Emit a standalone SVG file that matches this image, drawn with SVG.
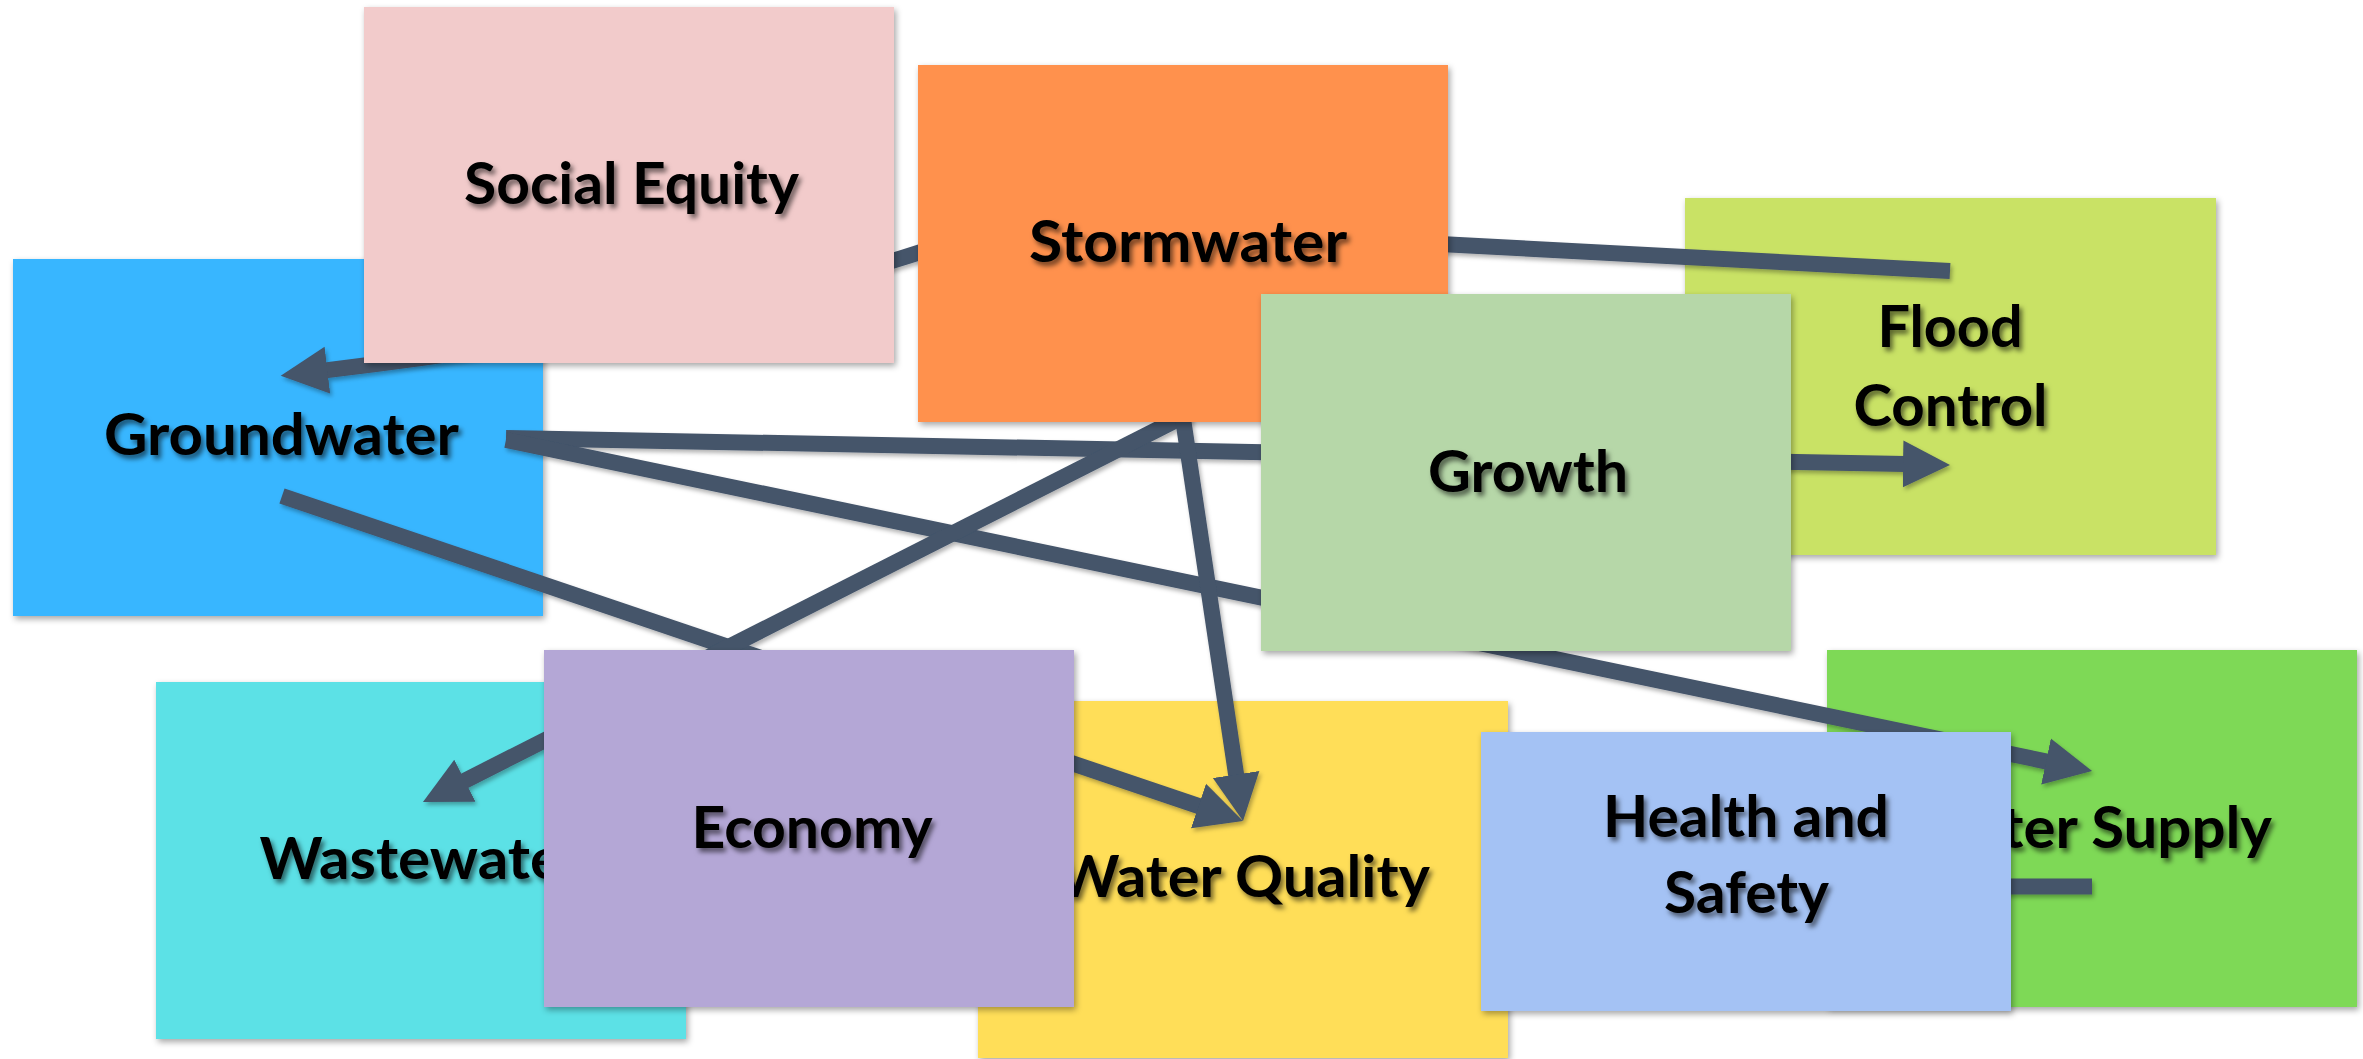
<svg xmlns="http://www.w3.org/2000/svg" width="2363" height="1059" viewBox="0 0 2363 1059">
<defs>
<style>
.box{stroke:none}
.lbl{font-family:Lato,"Open Sans","Liberation Sans",sans-serif;font-weight:700;font-size:58px;fill:#000;text-anchor:middle;filter:url(#tshadow)}
.con{fill:none;stroke:#44546A;stroke-width:16;stroke-linecap:butt}
.arr{marker-end:url(#arrow)}
</style>
<filter id="bshadow" x="-5%" y="-5%" width="115%" height="115%">
<feDropShadow dx="2" dy="3" stdDeviation="3" flood-color="#000" flood-opacity="0.35"/>
</filter>
<filter id="tshadow" x="-10%" y="-30%" width="125%" height="170%">
<feDropShadow dx="3" dy="4" stdDeviation="2.5" flood-color="#000" flood-opacity="0.55"/>
</filter>
<filter id="cshadow" x="-5%" y="-5%" width="115%" height="115%">
<feDropShadow dx="2" dy="3" stdDeviation="2" flood-color="#000" flood-opacity="0.3"/>
</filter>
<marker id="arrow" markerUnits="userSpaceOnUse" markerWidth="50" markerHeight="50" viewBox="0 -25 50 50" refX="2" refY="0" orient="auto">
<path d="M0,-23.5 L47,0 L0,23.5 Z" fill="#44546A"/>
</marker>
</defs>
<rect width="2363" height="1059" fill="#FFFFFF"/>

<g id="lower-nodes">
<g id="node-groundwater">
<rect class="box" x="13" y="259" width="530" height="357" fill="#38B6FF" filter="url(#bshadow)"/>
<text class="lbl" x="281.5" y="455" textLength="355" lengthAdjust="spacingAndGlyphs">Groundwater</text>
</g>
<g id="node-flood-control">
<rect class="box" x="1685" y="198" width="531" height="357" fill="#C9E265" filter="url(#bshadow)"/>
<text class="lbl" x="1950" y="347" textLength="145" lengthAdjust="spacingAndGlyphs">Flood</text>
<text class="lbl" x="1950.5" y="426" textLength="194" lengthAdjust="spacingAndGlyphs">Control</text>
</g>
<g id="node-wastewater">
<rect class="box" x="156" y="682" width="530" height="357" fill="#5CE1E6" filter="url(#bshadow)"/>
<text class="lbl" x="422" y="879" textLength="325" lengthAdjust="spacingAndGlyphs">Wastewater</text>
</g>
<g id="node-water-quality">
<rect class="box" x="978" y="701" width="530" height="357" fill="#FFDE59" filter="url(#bshadow)"/>
<text class="lbl" x="1243.5" y="897" textLength="373" lengthAdjust="spacingAndGlyphs">Water Quality</text>
</g>
<g id="node-water-supply">
<rect class="box" x="1827" y="650" width="530" height="357" fill="#7ED957" filter="url(#bshadow)"/>
<text class="lbl" x="2092" y="848" textLength="360" lengthAdjust="spacingAndGlyphs">Water Supply</text>
</g>
</g>

<g id="connectors" filter="url(#cshadow)">
<path id="c-stormwater-groundwater" class="con arr" d="M930,249 C720,318 480,352 325.4,370.4"/>
<path id="c-stormwater-floodcontrol" class="con" d="M1440,244 L1950,271"/>
<path id="c-groundwater-floodcontrol" class="con arr" d="M506,438 L1905,464.1"/>
<path id="c-groundwater-watersupply" class="con arr" d="M506,440 L2048,761.8"/>
<path id="c-groundwater-waterquality" class="con arr" d="M282,496 L1200.4,806.6"/>
<path id="c-stormwater-wastewater" class="con arr" d="M1190,413 L463.1,781.6"/>
<path id="c-stormwater-waterquality" class="con arr" d="M1182,412 L1236.4,776.5"/>
<path id="c-health-watersupply" class="con" d="M1995,886.5 L2092,886.5"/>
</g>

<g id="upper-nodes">
<g id="node-social-equity">
<rect class="box" x="364" y="7" width="530" height="356" fill="#F2CBCB" filter="url(#bshadow)"/>
<text class="lbl" x="631.5" y="204" textLength="335" lengthAdjust="spacingAndGlyphs">Social Equity</text>
</g>
<g id="node-stormwater">
<rect class="box" x="918" y="65" width="530" height="357" fill="#FF914D" filter="url(#bshadow)"/>
<text class="lbl" x="1188" y="262" textLength="318" lengthAdjust="spacingAndGlyphs">Stormwater</text>
</g>
<g id="node-growth">
<rect class="box" x="1261" y="294" width="530" height="357" fill="#B6D7A8" filter="url(#bshadow)"/>
<text class="lbl" x="1528" y="492" textLength="200" lengthAdjust="spacingAndGlyphs">Growth</text>
</g>
<g id="node-economy">
<rect class="box" x="544" y="650" width="530" height="357" fill="#B4A7D6" filter="url(#bshadow)"/>
<text class="lbl" x="812" y="848" textLength="241" lengthAdjust="spacingAndGlyphs">Economy</text>
</g>
<g id="node-health-safety">
<rect class="box" x="1481" y="732" width="530" height="279" fill="#A4C2F4" filter="url(#bshadow)"/>
<text class="lbl" x="1746" y="837" textLength="286" lengthAdjust="spacingAndGlyphs">Health and</text>
<text class="lbl" x="1746.5" y="913" textLength="165" lengthAdjust="spacingAndGlyphs">Safety</text>
</g>
</g>
</svg>
